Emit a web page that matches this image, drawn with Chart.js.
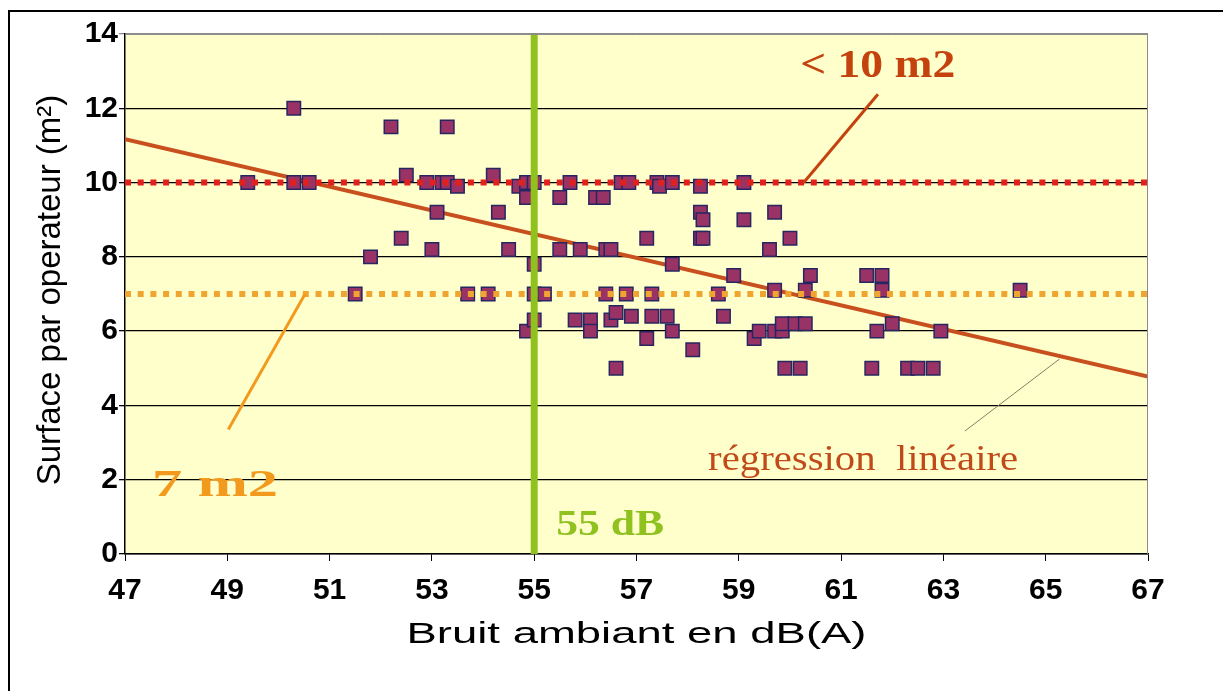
<!DOCTYPE html>
<html>
<head>
<meta charset="utf-8">
<script src="https://cdn.jsdelivr.net/npm/chart.js@4.4.1/dist/chart.umd.min.js"></script>
<style>
  html, body { margin: 0; padding: 0; background: #fff; }
  #wrap { width: 1223px; height: 691px; }
</style>
</head>
<body>
<div id="wrap"><canvas id="chart" width="1223" height="691"></canvas></div>
<script>
// bruit ambiant (dB(A)) / surface par operateur (m2)
const noiseDb = [
    49.4, 50.3, 50.3, 50.6, 51.5, 51.8, 52.2, 52.4, 52.5, 52.9,
    53.0, 53.1, 53.2, 53.3, 53.3, 53.5, 53.7, 54.1, 54.2, 54.3,
    54.5, 54.7, 54.85, 54.85, 54.85, 55.0, 55.0, 55.0, 55.0, 55.2,
    55.5, 55.5, 55.7, 55.8, 55.9, 56.1, 56.1, 56.2, 56.35, 56.4,
    56.4, 56.5, 56.5, 56.6, 56.6, 56.7, 56.85, 56.8, 56.9, 57.2,
    57.2, 57.3, 57.3, 57.4, 57.45, 57.6, 57.7, 57.7, 57.7, 58.1,
    58.25, 58.25, 58.3, 58.25, 58.3, 58.6, 58.7, 58.9, 59.1, 59.1,
    59.3, 59.4, 59.6, 59.7, 59.7, 59.7, 59.85, 59.85, 59.9, 60.0,
    60.1, 60.2, 60.3, 60.3, 60.4, 61.5, 61.6, 61.7, 61.8, 61.8,
    62.0, 62.3, 62.5, 62.8, 62.95, 64.5
];
const surfaceM2 = [
    10, 12, 10, 10, 7, 8, 11.5, 8.5, 10.2, 10,
    8.2, 9.2, 10, 11.5, 10, 9.9, 7, 7, 10.2, 9.2,
    8.2, 9.9, 10, 9.6, 6.0, 10, 7.8, 7, 6.3, 7,
    9.6, 8.2, 10, 6.3, 8.2, 6.3, 6.0, 9.6, 9.6, 8.2,
    7, 8.2, 6.3, 6.5, 5.0, 10, 10, 7, 6.4, 8.5,
    5.8, 7, 6.4, 10, 9.9, 6.4, 10, 7.8, 6.0, 5.5,
    9.9, 9.2, 9.0, 8.5, 8.5, 7, 6.4, 7.5, 10, 9.0,
    5.8, 6.0, 8.2, 9.2, 7.1, 6.0, 6.0, 6.2, 5.0, 8.5,
    6.2, 5.0, 6.2, 7.1, 7.5, 7.5, 5.0, 6.0, 7.5, 7.1,
    6.2, 5.0, 5.0, 5.0, 6.0, 7.1
];

const xTicks = [47, 49, 51, 53, 55, 57, 59, 61, 63, 65, 67];
const yTicks = [0, 2, 4, 6, 8, 10, 12, 14];

const regressionX = [47, 67];
const regressionY = [11.17, 4.78];

const limitHigh = 10;   // < 10 m2
const limitLow = 7;     // 7 m2
const limitDb = 55;     // 55 dB

const xTitle = 'Bruit ambiant en dB(A)';
const yTitle = 'Surface par operateur (m²)';

const points = noiseDb.map((x, i) => ({ x: x, y: surfaceM2[i] }));
const xMin = xTicks[0];
const xMax = xTicks[xTicks.length - 1];
const yMin = yTicks[0];
const yMax = yTicks[yTicks.length - 1];

// texte etire horizontalement pour coller a la largeur voulue
function fitText(ctx, text, px, py, width, font, color, align) {
    ctx.save();
    ctx.font = font;
    ctx.fillStyle = color;
    ctx.textBaseline = 'alphabetic';
    ctx.textAlign = 'left';
    const w = ctx.measureText(text).width;
    const k = width / w;
    const left = align === 'center' ? px - width / 2 : px;
    ctx.translate(left, py);
    ctx.scale(k, 1);
    ctx.fillText(text, 0, 0);
    ctx.restore();
}

function segment(ctx, x1, y1, x2, y2, color, lw) {
    ctx.save();
    ctx.strokeStyle = color;
    ctx.lineWidth = lw;
    ctx.beginPath();
    ctx.moveTo(x1, y1);
    ctx.lineTo(x2, y2);
    ctx.stroke();
    ctx.restore();
}

const backgroundPlugin = {
    id: 'background',
    beforeDraw(chart) {
        const { ctx, chartArea: a } = chart;
        ctx.save();
        ctx.fillStyle = '#ffffff';
        ctx.fillRect(0, 0, chart.width, chart.height);
        ctx.fillStyle = '#ffffcc';
        ctx.fillRect(a.left, a.top, a.right - a.left, a.bottom - a.top);
        ctx.restore();
    }
};

const decorPlugin = {
    id: 'decor',
    afterDraw(chart) {
        const { ctx, chartArea: a } = chart;
        const sx = chart.scales.x;
        const sy = chart.scales.y;

        // cadre gris du trace (haut et droite)
        segment(ctx, a.left, a.top + 0.5, a.right, a.top + 0.5, '#8c8c8c', 1);
        segment(ctx, a.right - 0.5, a.top, a.right - 0.5, a.bottom, '#8c8c8c', 1);

        // cadre noir exterieur
        segment(ctx, 9, 10, 9, chart.height, '#000', 2);
        segment(ctx, 8, 11, chart.width, 11, '#000', 2);

        // titres des axes
        fitText(ctx, xTitle, (a.left + a.right) / 2, a.bottom + 89, 460,
            '29px "Liberation Sans", Arial', '#000', 'center');
        ctx.save();
        ctx.font = '33px "Liberation Sans", Arial';
        ctx.fillStyle = '#000';
        ctx.textAlign = 'center';
        ctx.textBaseline = 'middle';
        ctx.translate(51, (a.top + a.bottom) / 2 - 4);
        ctx.rotate(-Math.PI / 2);
        ctx.fillText(yTitle, 0, 0);
        ctx.restore();

        // < 10 m2
        fitText(ctx, '< 10 m2', sx.getPixelForValue(60.2), sy.getPixelForValue(12.83), 155,
            'bold 40px "Liberation Serif"', '#c4420e');
        segment(ctx, sx.getPixelForValue(61.72), sy.getPixelForValue(12.38),
            sx.getPixelForValue(60.27), sy.getPixelForValue(limitHigh), '#c4420e', 3);

        // 7 m2
        fitText(ctx, '7 m2', sx.getPixelForValue(47.53), sy.getPixelForValue(1.55), 126,
            'bold 38px "Liberation Serif"', '#f29a1d');
        segment(ctx, sx.getPixelForValue(49.02), sy.getPixelForValue(3.35),
            sx.getPixelForValue(50.52), sy.getPixelForValue(limitLow), '#f29a1d', 3);

        // 55 dB
        fitText(ctx, '55 dB', sx.getPixelForValue(55.43), sy.getPixelForValue(0.5), 108,
            'bold 36px "Liberation Serif"', '#8fc21f');

        // regression lineaire
        fitText(ctx, 'régression  linéaire', sx.getPixelForValue(58.4), sy.getPixelForValue(2.27), 310,
            '36px "Liberation Serif"', '#c04a1a');
        segment(ctx, sx.getPixelForValue(63.42), sy.getPixelForValue(3.31),
            sx.getPixelForValue(65.27), sy.getPixelForValue(5.25), '#8a7c66', 1);
    }
};

const ctx = document.getElementById('chart').getContext('2d');
new Chart(ctx, {
    type: 'scatter',
    data: {
        datasets: [
            {
                type: 'line',
                data: [{ x: limitDb, y: yMin }, { x: limitDb, y: yMax }],
                borderColor: '#8fc21f',
                borderWidth: 7,
                pointRadius: 0,
                showLine: true
            },
            {
                type: 'line',
                data: [{ x: xMin, y: limitHigh }, { x: xMax, y: limitHigh }],
                borderColor: '#e3211c',
                borderWidth: 6,
                borderDash: [6, 6.7],
                pointRadius: 0,
                showLine: true
            },
            {
                type: 'line',
                data: [{ x: xMin, y: limitLow }, { x: xMax, y: limitLow }],
                borderColor: '#f1a531',
                borderWidth: 6,
                borderDash: [6, 6.7],
                pointRadius: 0,
                showLine: true
            },
            {
                data: points,
                pointStyle: 'rect',
                pointRadius: 9.5,
                backgroundColor: '#993366',
                borderColor: '#262660',
                borderWidth: 1.5
            },
            {
                type: 'line',
                data: regressionX.map((x, i) => ({ x: x, y: regressionY[i] })),
                borderColor: '#c8501e',
                borderWidth: 4,
                pointRadius: 0,
                showLine: true
            }
        ]
    },
    options: {
        responsive: false,
        animation: false,
        devicePixelRatio: 1,
        layout: { padding: { top: 34, right: 75, left: 0, bottom: 0 } },
        plugins: {
            legend: { display: false },
            tooltip: { enabled: false }
        },
        scales: {
            x: {
                type: 'linear',
                min: xMin,
                max: xMax,
                afterBuildTicks: s => { s.ticks = xTicks.map(v => ({ value: v })); },
                afterFit: s => { s.height = 137; },
                ticks: {
                    color: '#000',
                    padding: 12,
                    font: { family: '"Liberation Sans", Arial', size: 30, weight: 'bold' }
                },
                grid: { drawOnChartArea: false, color: '#000', tickLength: 7 },
                border: { color: '#000', width: 1.5 }
            },
            y: {
                min: yMin,
                max: yMax,
                afterBuildTicks: s => { s.ticks = yTicks.map(v => ({ value: v })); },
                afterFit: s => { s.width = 125; },
                ticks: {
                    color: '#000',
                    padding: 1,
                    font: { family: '"Liberation Sans", Arial', size: 30, weight: 'bold' }
                },
                grid: {
                    color: c => (c.tick && c.tick.value === yMax ? '#8c8c8c' : '#000'),
                    lineWidth: 1.3,
                    tickLength: 6
                },
                border: { color: '#000', width: 1.5 }
            }
        }
    },
    plugins: [backgroundPlugin, decorPlugin]
});
</script>
</body>
</html>
